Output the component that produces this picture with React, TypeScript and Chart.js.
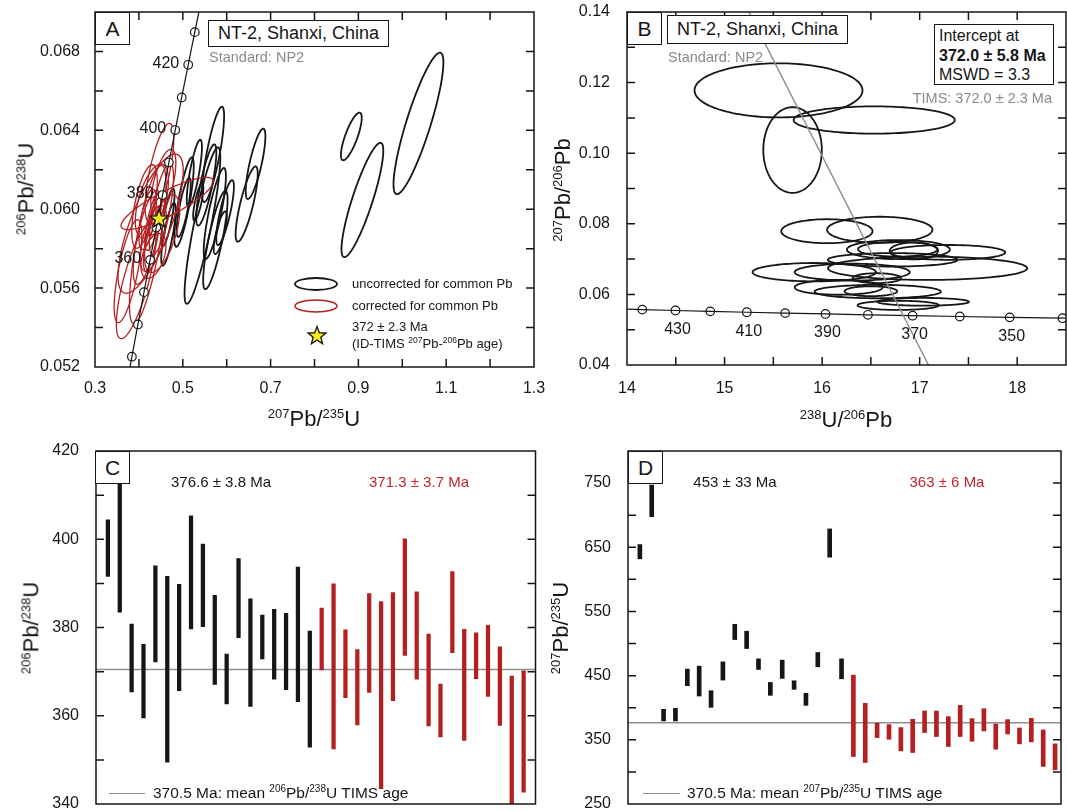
import React, { useEffect, useRef } from 'react';
import { Chart, registerables } from 'chart.js';

Chart.register(...registerables);

const FONT = '"Liberation Sans", Arial, Helvetica, sans-serif';
const INK = '#161616';
const RED = '#b42020';
const RED_TXT = '#c0262c';
const GRAY = '#8e8e8e';
const GRAY_TXT = '#8a8a8a';

// decay constants (per Ma) and 238U/235U
const L238 = 1.55125e-4;
const L235 = 9.8485e-4;
const U_RATIO = 137.88;

// ---------- concordia ----------
const concordiaAges = [310, 320, 330, 340, 350, 360, 370, 380, 390, 400, 410, 420, 430, 440, 450, 460];
const concordiaDotsA = [330, 340, 350, 360, 370, 380, 390, 400, 410, 420, 430];
const concordiaLabelsA = [360, 380, 400, 420];
const concordiaDotsB = [340, 350, 360, 370, 380, 390, 400, 410, 420, 430, 440];
const concordiaLabelsB = [350, 370, 390, 410, 430];

// ---------- Panel A: Wetherill ellipses (207Pb/235U, 206Pb/238U) ----------
const aBlackX = [0.8839, 1.0368, 0.4661, 0.4673, 0.5535, 0.5447, 0.5028, 0.5689, 0.6657, 0.6455, 0.5854, 0.5263, 0.5729, 0.5352, 0.5021, 0.5963, 0.9091, 0.5742];
const aBlackSX = [0.0206, 0.0494, 0.0131, 0.0143, 0.0199, 0.0354, 0.0192, 0.0219, 0.0195, 0.0219, 0.0130, 0.0150, 0.0220, 0.0101, 0.0139, 0.0175, 0.0414, 0.0242];
const aBlackY = [0.06369, 0.06435, 0.05958, 0.05873, 0.06123, 0.05917, 0.06036, 0.06278, 0.06230, 0.06026, 0.05881, 0.06182, 0.05978, 0.06037, 0.06009, 0.05983, 0.06047, 0.05844];
const aBlackSY = [0.00105, 0.00312, 0.00127, 0.00138, 0.00179, 0.00345, 0.00197, 0.0021, 0.00155, 0.00166, 0.00094, 0.00148, 0.00201, 0.00082, 0.0013, 0.00143, 0.00252, 0.00217];
const aBlackRho = [0.78, 0.86, 0.78, 0.78, 0.8, 0.87, 0.8, 0.8, 0.78, 0.8, 0.76, 0.78, 0.82, 0.76, 0.78, 0.8, 0.86, 0.82];

const aRedX = [0.4645, 0.4267, 0.4321, 0.4288, 0.4128, 0.4201, 0.4512, 0.4468, 0.4296, 0.4530, 0.4331, 0.4556, 0.4187, 0.4402, 0.4201, 0.4329, 0.3936, 0.3752];
const aRedSX = [0.0914, 0.0646, 0.0158, 0.0160, 0.0252, 0.0362, 0.0240, 0.0284, 0.0328, 0.0348, 0.0248, 0.0248, 0.0275, 0.0159, 0.0173, 0.0260, 0.0391, 0.0274];
const aRedY = [0.06029, 0.05927, 0.05937, 0.05850, 0.06014, 0.05821, 0.06001, 0.06186, 0.06042, 0.05876, 0.05763, 0.06130, 0.05858, 0.05967, 0.05949, 0.05853, 0.05637, 0.05686];
const aRedSY = [0.00115, 0.00307, 0.00127, 0.00141, 0.00184, 0.00349, 0.00202, 0.00217, 0.00163, 0.00171, 0.00099, 0.00151, 0.00207, 0.00085, 0.00133, 0.00146, 0.00255, 0.00227];
const aRedRho = [0.85, 0.75, 0.7, 0.7, 0.6, 0.75, 0.7, 0.7, 0.55, 0.6, 0.45, 0.6, 0.7, 0.6, 0.6, 0.6, 0.75, 0.7];

const timsStar = [0.446, 0.0595];

// ---------- Panel B: Tera-Wasserburg ellipses (238U/206Pb, 207Pb/206Pb) ----------
const bX = [15.553, 16.534, 15.697, 16.049, 16.591, 16.782, 16.776, 16.94, 17.29, 16.723, 17.081, 15.92, 16.308, 16.56, 16.17, 16.57, 16.5, 16.78, 17.037];
const bSX = [0.861, 0.826, 0.3, 0.468, 0.54, 0.528, 0.408, 0.247, 0.587, 0.664, 1.021, 0.633, 0.59, 0.247, 0.451, 0.647, 0.269, 0.417, 0.468];
const bY = [0.1178, 0.1094, 0.1009, 0.0779, 0.0783, 0.0727, 0.0728, 0.0723, 0.0719, 0.0698, 0.0674, 0.0663, 0.0663, 0.0646, 0.062, 0.0608, 0.0609, 0.0569, 0.0579];
const bSY = [0.00766, 0.00387, 0.01214, 0.0034, 0.0037, 0.0027, 0.0021, 0.0024, 0.0021, 0.0019, 0.0033, 0.0026, 0.0024, 0.0014, 0.0021, 0.0019, 0.0014, 0.0013, 0.0011];
const discordiaX = [15.25, 17.09];
const discordiaY = [0.14, 0.04];

// ---------- Panel C: 206Pb/238U ages (Ma) ----------
const cBlackLow = [391.6, 383.5, 365.4, 359.5, 372.2, 349.5, 365.7, 379.7, 380.2, 367.1, 362.7, 377.7, 362.1, 372.9, 368.3, 365.9, 363.2, 352.9];
const cBlackHigh = [404.4, 421, 380.8, 376.2, 394.0, 391.6, 389.8, 405.3, 398.9, 387.3, 374.0, 395.6, 386.5, 382.8, 384.1, 383.2, 393.7, 379.2];
const cRedLow = [370.4, 352.5, 364.1, 357.9, 365.3, 343.5, 363.4, 373.7, 368.3, 357.7, 355.2, 374.3, 354.4, 368.4, 364.4, 357.8, 338, 342.7];
const cRedHigh = [384.4, 389.9, 379.5, 375.0, 387.7, 385.9, 387.9, 400.1, 388.1, 378.5, 367.2, 392.7, 379.6, 378.8, 380.5, 375.6, 369.0, 370.2];
const cTimsMean = 370.5;

// ---------- Panel D: 207Pb/235U ages (Ma) ----------
const dBlackLow = [632, 697.7, 379.4, 379.4, 434.3, 418.2, 400.6, 443.1, 506.2, 492.2, 459.6, 419.3, 445.7, 428.6, 403.7, 463.8, 634.6, 445.1];
const dBlackHigh = [654.2, 746.9, 397.5, 399.1, 460.2, 464.8, 426.5, 471.5, 530.0, 519.2, 476.2, 439.4, 474.1, 442.0, 422.4, 486.0, 678.6, 476.2];
const dRedLow = [324.0, 314.7, 353.5, 350.9, 332.8, 330.2, 361.3, 355.1, 339.6, 355.1, 347.8, 363.9, 335.4, 359.2, 343.7, 346.8, 308.5, 303.3];
const dRedHigh = [450.8, 406.8, 375.8, 373.7, 369.0, 382.0, 394.9, 394.9, 386.1, 403.7, 383.0, 398.5, 374.7, 381.5, 368.5, 383.5, 365.4, 343.7];
const dMeanLine = 376.5;

const ELLIPSE_K = 1.15;

const r68 = (t: number) => Math.exp(L238 * t) - 1;
const r75 = (t: number) => Math.exp(L235 * t) - 1;

// ---------- drawing helpers ----------
function ellipse(ctx: CanvasRenderingContext2D, xs: any, ys: any, cx: number, sx: number, cy: number, sy: number, rho: number, k: number) {
  const a = sx * k;
  const b = rho * sy * k;
  const c = sy * k * Math.sqrt(1 - rho * rho);
  ctx.beginPath();
  for (let i = 0; i <= 120; i++) {
    const t = (i / 120) * Math.PI * 2;
    const px = xs.getPixelForValue(cx + a * Math.cos(t));
    const py = ys.getPixelForValue(cy + b * Math.cos(t) + c * Math.sin(t));
    if (i === 0) ctx.moveTo(px, py);
    else ctx.lineTo(px, py);
  }
  ctx.closePath();
  ctx.stroke();
}

function star(ctx: CanvasRenderingContext2D, cx: number, cy: number, R: number, r: number) {
  ctx.beginPath();
  for (let i = 0; i < 10; i++) {
    const ang = -Math.PI / 2 + (i * Math.PI) / 5;
    const rad = i % 2 === 0 ? R : r;
    const x = cx + rad * Math.cos(ang);
    const y = cy + rad * Math.sin(ang);
    if (i === 0) ctx.moveTo(x, y);
    else ctx.lineTo(x, y);
  }
  ctx.closePath();
  ctx.fillStyle = '#f4ec1c';
  ctx.fill();
  ctx.lineWidth = 1.3;
  ctx.strokeStyle = INK;
  ctx.stroke();
}

function frameAndTicks(chart: any, axes: string[]) {
  const { ctx, chartArea: ar } = chart;
  ctx.save();
  ctx.strokeStyle = INK;
  ctx.lineWidth = 1.5;
  const L = 8;
  if (axes.includes('x')) {
    const xs = chart.scales.x;
    xs.ticks.forEach((t: any) => {
      const px = xs.getPixelForValue(t.value);
      if (px <= ar.left + 1 || px >= ar.right - 1) return;
      ctx.beginPath();
      ctx.moveTo(px, ar.bottom);
      ctx.lineTo(px, ar.bottom - L);
      ctx.moveTo(px, ar.top);
      ctx.lineTo(px, ar.top + L);
      ctx.stroke();
    });
  }
  if (axes.includes('y')) {
    const ys = chart.scales.y;
    ys.ticks.forEach((t: any) => {
      const py = ys.getPixelForValue(t.value);
      if (py <= ar.top + 1 || py >= ar.bottom - 1) return;
      ctx.beginPath();
      ctx.moveTo(ar.left, py);
      ctx.lineTo(ar.left + L, py);
      ctx.moveTo(ar.right, py);
      ctx.lineTo(ar.right - L, py);
      ctx.stroke();
    });
  }
  ctx.strokeRect(ar.left, ar.top, ar.right - ar.left, ar.bottom - ar.top);
  ctx.restore();
}

function linAxis(min: number, max: number, step: number, label: (v: number) => string, size: number, padding: number) {
  return {
    type: 'linear',
    min,
    max,
    offset: false,
    grid: { display: false },
    border: { display: false },
    ticks: {
      stepSize: step,
      autoSkip: false,
      maxRotation: 0,
      minRotation: 0,
      padding,
      color: INK,
      font: { family: FONT, size: 16 },
      callback: (v: any) => label(Number(v)),
    },
    afterFit: (s: any) => {
      if (s.isHorizontal()) s.height = size;
      else s.width = size;
    },
  };
}

const baseOptions = (padding: any) => ({
  responsive: false,
  maintainAspectRatio: false,
  animation: false,
  events: [],
  layout: { padding },
  plugins: { legend: { display: false }, tooltip: { enabled: false } },
});

// ---------- chart configs ----------
function configA(): any {
  const plugin = {
    id: 'panelA',
    beforeDatasetsDraw(chart: any) {
      const { ctx, chartArea: ar, scales } = chart;
      ctx.save();
      ctx.beginPath();
      ctx.rect(ar.left, ar.top, ar.right - ar.left, ar.bottom - ar.top);
      ctx.clip();
      ctx.strokeStyle = INK;
      ctx.lineWidth = 1.8;
      aBlackX.forEach((x, i) => ellipse(ctx, scales.x, scales.y, x, aBlackSX[i], aBlackY[i], aBlackSY[i], aBlackRho[i], ELLIPSE_K));
      ctx.strokeStyle = RED;
      ctx.lineWidth = 1.3;
      aRedX.forEach((x, i) => ellipse(ctx, scales.x, scales.y, x, aRedSX[i], aRedY[i], aRedSY[i], aRedRho[i], ELLIPSE_K));
      ctx.restore();
    },
    afterDatasetsDraw(chart: any) {
      const { ctx, scales } = chart;
      ctx.save();
      ctx.font = `16px ${FONT}`;
      ctx.fillStyle = INK;
      ctx.textAlign = 'right';
      ctx.textBaseline = 'middle';
      concordiaLabelsA.forEach((t) => {
        const px = scales.x.getPixelForValue(r75(t));
        const py = scales.y.getPixelForValue(r68(t));
        ctx.fillText(String(t), px - 9, py - 1);
      });
      star(ctx, scales.x.getPixelForValue(timsStar[0]), scales.y.getPixelForValue(timsStar[1]), 9.5, 4);
      // legend glyphs (canvas is shifted 10px up)
      ctx.lineWidth = 1.8;
      ctx.strokeStyle = INK;
      ctx.beginPath();
      ctx.ellipse(316, 294, 21, 6, 0, 0, Math.PI * 2);
      ctx.stroke();
      ctx.lineWidth = 1.5;
      ctx.strokeStyle = RED;
      ctx.beginPath();
      ctx.ellipse(316, 316, 21, 6, 0, 0, Math.PI * 2);
      ctx.stroke();
      star(ctx, 317, 346, 9.5, 4);
      ctx.restore();
      frameAndTicks(chart, ['x', 'y']);
    },
  };
  return {
    type: 'scatter',
    data: {
      datasets: [
        {
          data: concordiaAges.map((t) => ({ x: r75(t), y: r68(t) })),
          showLine: true,
          borderColor: INK,
          borderWidth: 1.2,
          pointRadius: 0,
        },
        {
          data: concordiaDotsA.map((t) => ({ x: r75(t), y: r68(t) })),
          showLine: false,
          pointRadius: 4.3,
          pointBackgroundColor: '#fff',
          pointBorderColor: INK,
          pointBorderWidth: 1.2,
        },
      ],
    },
    options: {
      ...baseOptions({ left: 0, top: 22, right: 26, bottom: 0 }),
      scales: {
        x: linAxis(0.3, 1.3, 0.1, (v) => (Math.round(v * 10) % 2 === 1 ? v.toFixed(1) : ''), 63, 4),
        y: linAxis(0.052, 0.07, 0.002, (v) => (Math.round((v - 0.052) * 1000) % 4 === 0 ? v.toFixed(3) : ''), 95, 7),
      },
    },
    plugins: [plugin],
  };
}

function configB(): any {
  const plugin = {
    id: 'panelB',
    beforeDatasetsDraw(chart: any) {
      const { ctx, chartArea: ar, scales } = chart;
      ctx.save();
      ctx.beginPath();
      ctx.rect(ar.left, ar.top, ar.right - ar.left, ar.bottom - ar.top);
      ctx.clip();
      ctx.strokeStyle = INK;
      ctx.lineWidth = 1.8;
      bX.forEach((x, i) => ellipse(ctx, scales.x, scales.y, x, bSX[i], bY[i], bSY[i], 0, 1));
      ctx.restore();
    },
    afterDatasetsDraw(chart: any) {
      const { ctx, scales } = chart;
      ctx.save();
      ctx.font = `16px ${FONT}`;
      ctx.fillStyle = INK;
      ctx.textAlign = 'center';
      ctx.textBaseline = 'middle';
      concordiaLabelsB.forEach((t) => {
        const px = scales.x.getPixelForValue(1 / r68(t));
        const py = scales.y.getPixelForValue(r75(t) / r68(t) / U_RATIO);
        ctx.fillText(String(t), px + 2, py + 19);
      });
      ctx.restore();
      frameAndTicks(chart, ['x', 'y']);
    },
  };
  return {
    type: 'scatter',
    data: {
      datasets: [
        {
          data: discordiaX.map((x, i) => ({ x, y: discordiaY[i] })),
          showLine: true,
          borderColor: '#909090',
          borderWidth: 1.5,
          pointRadius: 0,
        },
        {
          data: concordiaAges.map((t) => ({ x: 1 / r68(t), y: r75(t) / r68(t) / U_RATIO })),
          showLine: true,
          borderColor: INK,
          borderWidth: 1.2,
          pointRadius: 0,
        },
        {
          data: concordiaDotsB.map((t) => ({ x: 1 / r68(t), y: r75(t) / r68(t) / U_RATIO })),
          showLine: false,
          pointRadius: 4.3,
          pointBackgroundColor: '#fff',
          pointBorderColor: INK,
          pointBorderWidth: 1.2,
        },
      ],
    },
    options: {
      ...baseOptions({ left: 0, top: 22, right: 14, bottom: 0 }),
      scales: {
        x: linAxis(14, 18.5, 0.5, (v) => (Math.abs(v - Math.round(v)) < 1e-6 ? String(Math.round(v)) : ''), 65, 6),
        y: linAxis(0.04, 0.14, 0.01, (v) => (Math.round(v * 100) % 2 === 0 ? v.toFixed(2) : ''), 87, 9),
      },
    },
    plugins: [plugin],
  };
}

function configBars(
  blackLow: number[], blackHigh: number[], redLow: number[], redHigh: number[],
  mean: number, yMin: number, yMax: number, yStep: number, labelEvery: number,
  xMax: number, yWidth: number, padRight: number, barW: number,
): any {
  const plugin = {
    id: 'bars',
    afterDatasetsDraw(chart: any) {
      frameAndTicks(chart, ['y']);
    },
  };
  return {
    type: 'bar',
    data: {
      datasets: [
        {
          type: 'line',
          data: [{ x: 0, y: mean }, { x: xMax, y: mean }],
          borderColor: GRAY,
          borderWidth: 1.5,
          pointRadius: 0,
          order: 3,
        },
        {
          type: 'bar',
          data: blackLow.map((lo, i) => ({ x: i + 1, y: [lo, blackHigh[i]] })),
          backgroundColor: INK,
          barThickness: barW,
          grouped: false,
          borderWidth: 0,
          order: 1,
        },
        {
          type: 'bar',
          data: redLow.map((lo, i) => ({ x: i + 1 + blackLow.length, y: [lo, redHigh[i]] })),
          backgroundColor: RED,
          barThickness: barW,
          grouped: false,
          borderWidth: 0,
          order: 2,
        },
      ],
    },
    options: {
      ...baseOptions({ left: 0, top: 21, right: padRight, bottom: 22 }),
      scales: {
        x: { type: 'linear', min: 0, max: xMax, offset: false, display: false },
        y: linAxis(yMin, yMax, yStep, (v) => (Math.round(v - yMin) % labelEvery === 0 ? String(Math.round(v)) : ''), yWidth, 9),
      },
    },
    plugins: [plugin],
  };
}

// ---------- React ----------
function ChartBox({ left, top, width, height, make }: { left: number; top: number; width: number; height: number; make: () => any }) {
  const ref = useRef<HTMLCanvasElement>(null);
  useEffect(() => {
    const chart = new Chart(ref.current as HTMLCanvasElement, make());
    return () => chart.destroy();
  }, []);
  return (
    <div style={{ position: 'absolute', left, top, width, height }}>
      <canvas ref={ref} width={width} height={height} style={{ width, height, display: 'block' }} />
    </div>
  );
}

function T({ x, y, size, color = INK, anchor = 'left', bold = false, rotate = false, children }: any) {
  const tx = anchor === 'left' ? '0' : anchor === 'center' ? '-50%' : '-100%';
  return (
    <div
      style={{
        position: 'absolute',
        left: x,
        top: y,
        transform: rotate ? 'translate(-50%,-50%) rotate(-90deg)' : `translate(${tx},-50%)`,
        fontSize: size,
        color,
        fontWeight: bold ? 'bold' : 'normal',
        whiteSpace: 'nowrap',
        lineHeight: 1.15,
        fontFamily: FONT,
      }}
    >
      {children}
    </div>
  );
}

function S({ s, children }: any) {
  return <span style={{ fontSize: s, position: 'relative', top: -s * 0.62 }}>{children}</span>;
}

function Box({ x, y, w, h, size, children }: any) {
  return (
    <div
      style={{
        position: 'absolute',
        left: x,
        top: y,
        width: w,
        height: h,
        boxSizing: 'border-box',
        border: `1.5px solid ${INK}`,
        background: '#fff',
        display: 'flex',
        alignItems: 'center',
        justifyContent: 'center',
        fontSize: size,
        fontFamily: FONT,
        color: INK,
        whiteSpace: 'nowrap',
      }}
    >
      {children}
    </div>
  );
}

export default function App() {
  return (
    <div style={{ position: 'absolute', left: 0, top: 0, width: 1067, height: 811, overflow: 'hidden', background: '#fff', fontFamily: FONT }}>
      <ChartBox left={0} top={-10} width={560} height={440} make={configA} />
      <ChartBox left={540} top={-10} width={540} height={440} make={configB} />
      <ChartBox
        left={0}
        top={430}
        width={560}
        height={396}
        make={() => configBars(cBlackLow, cBlackHigh, cRedLow, cRedHigh, cTimsMean, 340, 420, 10, 20, 37, 96, 24.5, 3.6)}
      />
      <ChartBox
        left={540}
        top={430}
        width={540}
        height={396}
        make={() => configBars(dBlackLow, dBlackHigh, dRedLow, dRedHigh, dMeanLine, 250, 800, 50, 100, 36.5, 88, 19, 4)}
      />

      {/* Panel A annotations */}
      <Box x={95} y={12} w={35} h={33} size={21}>A</Box>
      <Box x={208} y={20} w={181} h={27} size={18}>NT-2, Shanxi, China</Box>
      <T x={209} y={57} size={14.5} color={GRAY_TXT}>Standard: NP2</T>
      <T x={352} y={284} size={13}>uncorrected for common Pb</T>
      <T x={352} y={306} size={13}>corrected for common Pb</T>
      <T x={352} y={327} size={13}>372 ± 2.3 Ma</T>
      <T x={352} y={344} size={13}>(ID-TIMS <S s={8.5}>207</S>Pb-<S s={8.5}>206</S>Pb age)</T>
      <T x={314} y={419} size={22} anchor="center"><S s={13}>207</S>Pb/<S s={13}>235</S>U</T>
      <T x={26} y={189} size={22} rotate><S s={13}>206</S>Pb/<S s={13}>238</S>U</T>

      {/* Panel B annotations */}
      <Box x={627} y={12} w={35} h={33} size={21}>B</Box>
      <Box x={667} y={15} w={181} h={29} size={18}>NT-2, Shanxi, China</Box>
      <T x={668} y={57} size={14.5} color={GRAY_TXT}>Standard: NP2</T>
      <div
        style={{
          position: 'absolute', left: 934, top: 24, width: 120, height: 61, boxSizing: 'border-box',
          border: `1.5px solid ${INK}`, background: '#fff', fontFamily: FONT, color: INK, fontSize: 16,
          lineHeight: '19.5px', padding: '1px 0 0 4px', whiteSpace: 'nowrap',
        }}
      >
        <div>Intercept at</div>
        <div style={{ fontWeight: 'bold' }}>372.0 ± 5.8 Ma</div>
        <div>MSWD = 3.3</div>
      </div>
      <T x={1052} y={98} size={14.5} color={GRAY_TXT} anchor="right">TIMS: 372.0 ± 2.3 Ma</T>
      <T x={846} y={420} size={22} anchor="center"><S s={13}>238</S>U/<S s={13}>206</S>Pb</T>
      <T x={563} y={190} size={22} rotate><S s={13}>207</S>Pb/<S s={13}>206</S>Pb</T>

      {/* Panel C annotations */}
      <Box x={95} y={451} w={35} h={33} size={21}>C</Box>
      <T x={221} y={482} size={15} anchor="center">376.6 ± 3.8 Ma</T>
      <T x={419} y={482} size={15} anchor="center" color={RED_TXT}>371.3 ± 3.7 Ma</T>
      <div style={{ position: 'absolute', left: 109, top: 792.5, width: 36, height: 1.5, background: GRAY }} />
      <T x={153} y={793} size={15.5}>370.5 Ma: mean <S s={10}>206</S>Pb/<S s={10}>238</S>U TIMS age</T>
      <T x={31} y={628} size={22} rotate><S s={13}>206</S>Pb/<S s={13}>238</S>U</T>

      {/* Panel D annotations */}
      <Box x={628} y={451} w={35} h={33} size={21}>D</Box>
      <T x={735} y={482} size={15} anchor="center">453 ± 33 Ma</T>
      <T x={947} y={482} size={15} anchor="center" color={RED_TXT}>363 ± 6 Ma</T>
      <div style={{ position: 'absolute', left: 643, top: 792.5, width: 37, height: 1.5, background: GRAY }} />
      <T x={687} y={793} size={15.5}>370.5 Ma: mean <S s={10}>207</S>Pb/<S s={10}>235</S>U TIMS age</T>
      <T x={561} y={628} size={22} rotate><S s={13}>207</S>Pb/<S s={13}>235</S>U</T>
    </div>
  );
}
